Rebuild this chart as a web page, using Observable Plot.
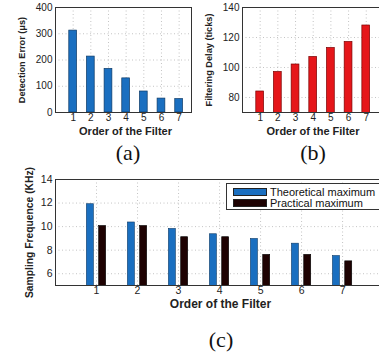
<!DOCTYPE html>
<html>
<head>
<meta charset="utf-8">
<script src="https://cdn.jsdelivr.net/npm/d3@7"></script>
<script src="https://cdn.jsdelivr.net/npm/@observablehq/plot@0.6"></script>
<style>
  html, body { margin: 0; padding: 0; background: #fff; }
  #fig { position: relative; width: 379px; height: 357px; overflow: hidden; background: #fff; font-family: "Liberation Sans", Arial, sans-serif; }
  .panel { position: absolute; }
  .panel svg { background: transparent !important; overflow: visible; }
  .cap { position: absolute; font-family: "Liberation Serif", "Times New Roman", serif; font-size: 22px; color: #111; transform: translate(-50%, -50%); white-space: nowrap; }
  #legend { position: absolute; left: 226px; top: 183px; width: 170px; height: 25px; border: 1px solid #333; background: #fff; font-size: 11px; color: #111; }
  #legend .row { position: absolute; left: 6px; height: 11px; display: flex; align-items: center; }
  #legend .sw { width: 34px; height: 8px; margin-right: 3px; box-sizing: border-box; border: 0.6px solid #222; }
</style>
</head>
<body>
<div id="fig">
  <div class="panel" id="pa" style="left:0;top:0"></div>
  <div class="panel" id="pb" style="left:190px;top:0"></div>
  <div class="panel" id="pc" style="left:0;top:150px"></div>
  <div class="cap" style="left:128px;top:153px">(a)</div>
  <div class="cap" style="left:313px;top:153px">(b)</div>
  <div class="cap" style="left:221px;top:340px">(c)</div>
  <div id="legend">
    <div class="row" style="top:2px"><div class="sw" id="swT"></div><span id="lgT"></span></div>
    <div class="row" style="top:13px"><div class="sw" id="swP"></div><span id="lgP"></span></div>
  </div>
</div>
<script>
// ---- data ----
const filterOrder = [1, 2, 3, 4, 5, 6, 7];
const detectionError = [312, 213, 166, 130, 80, 53, 51];          // µs
const filteringDelay = [84, 97, 102, 107, 113, 117, 128];          // ticks
const theoreticalMax = [11.9, 10.35, 9.8, 9.35, 8.95, 8.55, 7.5];  // KHz
const practicalMax = [10.05, 10.05, 9.1, 9.1, 7.6, 7.6, 7.05];     // KHz
const ticksA = [0, 100, 200, 300, 400];
const ticksB = [80, 100, 120, 140];
const ticksC = [6, 8, 10, 12, 14];
const seriesNames = ["Theoretical maximum", "Practical maximum"];
const xLabel = "Order of the Filter";
const yLabelA = "Detection Error (\u03bcs)";
const yLabelB = "Filtering Delay (ticks)";
const yLabelC = "Sampling Frequence (KHz)";

const blue = "#1a6fc0", blueEdge = "#0d3a66";
const red = "#e5161a", redEdge = "#7a0000";
const dark = "#1e0202";
const gridStyle = {stroke: "#b5b5b5", strokeDasharray: "1,2.5", strokeWidth: 0.8};
const font = "'Liberation Sans', Arial, sans-serif";

const dataA = filterOrder.map((o, i) => ({order: o, value: detectionError[i]}));
const dataB = filterOrder.map((o, i) => ({order: o, value: filteringDelay[i]}));
const dataC = filterOrder.flatMap((o, i) => [
  {order: o, series: seriesNames[0], value: theoreticalMax[i], off: -1},
  {order: o, series: seriesNames[1], value: practicalMax[i], off: 1}
]);

const centered = {textAnchor: "middle", lineAnchor: "middle", fill: "#222", fontWeight: "bold"};

function small(opts) {
  const {data, yDomain, yTicks, fill, stroke, yLabel, width, marginLeft, xMax, labelDx} = opts;
  return Plot.plot({
    width, height: 140,
    marginLeft, marginRight: 0, marginTop: 7, marginBottom: 28,
    style: {fontFamily: font, fontSize: "10px", color: "#222", background: "transparent"},
    x: {domain: [0, xMax], ticks: filterOrder, tickSize: 0, tickPadding: 1, tickFormat: d => String(d), label: null},
    y: {domain: yDomain, ticks: yTicks, tickSize: 0, tickPadding: 3, label: null},
    marks: [
      Plot.ruleY(yTicks, gridStyle),
      Plot.ruleX(filterOrder, gridStyle),
      Plot.rectY(data, {x1: d => d.order - 0.22, x2: d => d.order + 0.22, y: "value", fill, stroke, strokeWidth: 0.7, clip: true}),
      Plot.frame({stroke: "#333", strokeWidth: 1}),
      Plot.text([xLabel], {...centered, frameAnchor: "bottom", dy: 18.5, dx: 2, fontSize: 11}),
      Plot.text([yLabel], {...centered, frameAnchor: "left", dx: labelDx, rotate: -90, fontSize: 9.2})
    ]
  });
}

document.getElementById("pa").appendChild(small({
  data: dataA, yDomain: [0, 400], yTicks: ticksA, fill: blue, stroke: blueEdge,
  yLabel: yLabelA, width: 191, marginLeft: 55, xMax: 7.7, labelDx: -33
}));
document.getElementById("pb").appendChild(small({
  data: dataB, yDomain: [70, 140], yTicks: ticksB, fill: red, stroke: redEdge,
  yLabel: yLabelB, width: 189, marginLeft: 52, xMax: 7.75, labelDx: -33
}));

const colorOf = s => s === seriesNames[0] ? blue : dark;
document.getElementById("pc").appendChild(Plot.plot({
  width: 379, height: 165,
  marginLeft: 55, marginRight: 0, marginTop: 29, marginBottom: 30,
  style: {fontFamily: font, fontSize: "10.5px", color: "#222", background: "transparent"},
  x: {domain: [0, 7.9], ticks: filterOrder, tickSize: 0, tickPadding: 1.5, tickFormat: d => String(d), label: null},
  y: {domain: [5, 14], ticks: ticksC, tickSize: 0, tickPadding: 3, label: null},
  marks: [
    Plot.ruleY(ticksC, gridStyle),
    Plot.ruleX(filterOrder, gridStyle),
    Plot.rectY(dataC, {
      x1: d => d.order + d.off * 0.065, x2: d => d.order + d.off * 0.235,
      y: "value", fill: d => colorOf(d.series), stroke: d => d.off < 0 ? blueEdge : "#000",
      strokeWidth: 0.6, clip: true
    }),
    Plot.frame({stroke: "#333", strokeWidth: 1}),
    Plot.text([xLabel], {...centered, frameAnchor: "bottom", dy: 19, dx: 3, fontSize: 12}),
    Plot.text([yLabelC], {...centered, frameAnchor: "left", dx: -26, rotate: -90, fontSize: 10.3})
  ]
}));

document.getElementById("swT").style.background = blue;
document.getElementById("swP").style.background = dark;
document.getElementById("lgT").textContent = seriesNames[0];
document.getElementById("lgP").textContent = seriesNames[1];
</script>
</body>
</html>
